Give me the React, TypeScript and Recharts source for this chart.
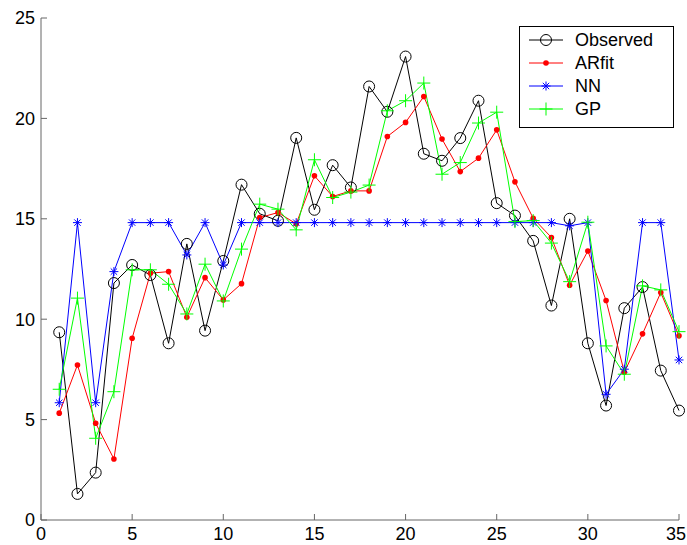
import React from "react";
import { LineChart, Line, XAxis, YAxis, Legend } from "recharts";

// time steps 1..35
const steps = [
  1, 2, 3, 4, 5, 6, 7, 8, 9, 10, 11, 12, 13, 14, 15, 16, 17, 18, 19, 20, 21,
  22, 23, 24, 25, 26, 27, 28, 29, 30, 31, 32, 33, 34, 35,
];

const observed = [
  9.35, 1.3, 2.36, 11.8, 12.7, 12.2, 8.8, 13.75, 9.43, 12.9, 16.7, 15.25, 14.9,
  19.03, 15.45, 17.67, 16.56, 21.59, 20.33, 23.08, 18.24, 17.89, 19.02, 20.88,
  15.78, 15.16, 13.9, 10.68, 15.0, 8.8, 5.7, 10.55, 11.6, 7.44, 5.45,
];

const arfit = [
  5.32, 7.72, 4.82, 3.04, 9.05, 12.29, 12.37, 10.1, 12.07, 10.96, 11.77, 15.06,
  15.31, 14.75, 17.14, 16.11, 16.39, 16.39, 19.1, 19.8, 21.09, 18.97, 17.35,
  18.02, 19.43, 16.84, 15.03, 14.07, 11.69, 13.4, 10.93, 7.36, 9.27, 11.33, 9.17,
];

const nn = [
  5.84, 14.81, 5.84, 12.37, 14.81, 14.81, 14.81, 13.2, 14.81, 12.7, 14.81,
  14.81, 14.81, 14.81, 14.81, 14.81, 14.81, 14.81, 14.81, 14.81, 14.81, 14.81,
  14.81, 14.81, 14.81, 14.81, 14.81, 14.81, 14.65, 14.81, 6.26, 7.51, 14.81,
  14.81, 7.97,
];

const gp = [
  6.51, 11.05, 4.07, 6.39, 12.46, 12.46, 11.74, 10.26, 12.74, 10.91, 13.49,
  15.73, 15.48, 14.45, 17.94, 16.06, 16.33, 16.68, 20.38, 20.88, 21.76, 17.22,
  17.8, 19.77, 20.31, 14.86, 14.91, 13.79, 11.87, 14.83, 8.67, 7.26, 11.66,
  11.46, 9.38,
];

const xTicks = [0, 5, 10, 15, 20, 25, 30, 35];
const yTicks = [0, 5, 10, 15, 20, 25];

const data = steps.map((t, i) => ({
  t,
  observed: observed[i],
  arfit: arfit[i],
  nn: nn[i],
  gp: gp[i],
}));

type Kind = "circle" | "dot" | "star" | "plus";

const series: { key: string; name: string; color: string; kind: Kind }[] = [
  { key: "observed", name: "Observed", color: "#000000", kind: "circle" },
  { key: "arfit", name: "ARfit", color: "#ff0000", kind: "dot" },
  { key: "nn", name: "NN", color: "#0000ff", kind: "star" },
  { key: "gp", name: "GP", color: "#00ff00", kind: "plus" },
];

const font = "'Liberation Sans', Arial, Helvetica, sans-serif";

function Marker({ kind, cx, cy, color }: { kind: Kind; cx: number; cy: number; color: string }) {
  if (cx == null || cy == null) return null;
  if (kind === "circle") {
    return <circle cx={cx} cy={cy} r={5.5} fill="none" stroke={color} strokeWidth={1} />;
  }
  if (kind === "dot") {
    return <circle cx={cx} cy={cy} r={2.8} fill={color} stroke="none" />;
  }
  if (kind === "star") {
    const a = 4.5;
    const d = 3.2;
    return (
      <g stroke={color} strokeWidth={1}>
        <line x1={cx - a} y1={cy} x2={cx + a} y2={cy} />
        <line x1={cx} y1={cy - a} x2={cx} y2={cy + a} />
        <line x1={cx - d} y1={cy - d} x2={cx + d} y2={cy + d} />
        <line x1={cx - d} y1={cy + d} x2={cx + d} y2={cy - d} />
      </g>
    );
  }
  const a = 6.5;
  return (
    <g stroke={color} strokeWidth={1}>
      <line x1={cx - a} y1={cy} x2={cx + a} y2={cy} />
      <line x1={cx} y1={cy - a} x2={cx} y2={cy + a} />
    </g>
  );
}

// x tick label, nudged left at the far right so it stays inside the frame
function XTick({ x, y, payload }: any) {
  const label = String(payload.value);
  const half = label.length * 5;
  const shift = Math.min(0, 686 - (x + half));
  return (
    <text
      x={x + shift}
      y={y + 13}
      textAnchor="middle"
      fontSize={18}
      fontFamily={font}
      fill="#000"
    >
      {label}
    </text>
  );
}

function LegendBox() {
  return (
    <svg width={155} height={102} style={{ display: "block" }}>
      <rect x={0.5} y={0.5} width={154} height={101} fill="#fff" stroke="#000" strokeWidth={1} />
      {series.map((s, i) => {
        const y = 14 + i * 23;
        return (
          <g key={s.key}>
            <line x1={10} y1={y} x2={44} y2={y} stroke={s.color} strokeWidth={1} />
            <Marker kind={s.kind} cx={27} cy={y} color={s.color} />
            <text x={56} y={y + 6} fontSize={18} fontFamily={font} fill="#000">
              {s.name}
            </text>
          </g>
        );
      })}
    </svg>
  );
}

export default function App() {
  return (
    <div style={{ position: "absolute", left: 0, top: 0, background: "#fff" }}>
      <LineChart
        width={687}
        height={545}
        data={data}
        margin={{ top: 18, right: 8, bottom: 0, left: 0 }}
      >
        <XAxis
          dataKey="t"
          type="number"
          domain={[0, 35]}
          ticks={xTicks}
          interval={0}
          height={25}
          tickSize={-6}
          tickMargin={13}
          stroke="#666"
          tick={<XTick />}
        />
        <YAxis
          type="number"
          domain={[0, 25]}
          ticks={yTicks}
          interval={0}
          width={41}
          tickSize={-6}
          tickMargin={12}
          stroke="#666"
          tick={{ fill: "#000", fontSize: 18, fontFamily: font }}
        />
        {series.map((s) => (
          <Line
            key={s.key}
            dataKey={s.key}
            name={s.name}
            type="linear"
            stroke={s.color}
            strokeWidth={1}
            isAnimationActive={false}
            activeDot={false}
            dot={(p: any) => (
              <g key={`${s.key}-${p.index}`}>
                <Marker kind={s.kind} cx={p.cx} cy={p.cy} color={s.color} />
              </g>
            )}
          />
        ))}
        <Legend
          layout="horizontal"
          align="center"
          verticalAlign="middle"
          wrapperStyle={{ left: 519, top: 26, width: 155, height: 102 }}
          content={() => <LegendBox />}
        />
      </LineChart>
    </div>
  );
}
